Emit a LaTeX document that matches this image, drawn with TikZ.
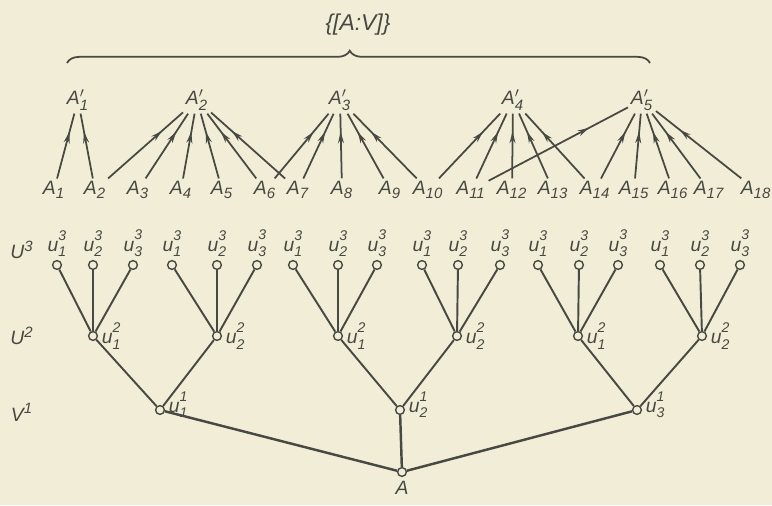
\documentclass[tikz,border=0pt]{standalone}
\usepackage{fontspec}
\setmainfont{Liberation Sans}
\usepackage{amsmath}
\DeclareMathSizes{11}{11}{8.5}{7}
\usetikzlibrary{arrows.meta,decorations.markings,decorations.pathreplacing}
\definecolor{PaperCream}{RGB}{242, 237, 214}
\definecolor{InkGrey}{RGB}{70, 74, 66}
\newcommand{\aname}[1]{$\textit{A}_{\textit{#1}}$}
\newcommand{\apname}[1]{$\textit{A}'_{\textit{#1}}$}
\newcommand{\idx}[1]{{\fontsize{8}{8}\selectfont\textit{#1}}}
\newcommand{\uname}[2]{\textit{u}\makebox[0pt][l]{\raisebox{1.1ex}{\idx{#1}}}\raisebox{-0.55ex}{\idx{#2}}}

\begin{document}
\begin{tikzpicture}[x=0.02cm, y=-0.02cm, color=InkGrey, font=\fontsize{11}{13}\selectfont,
    arr/.style={line width=1pt, postaction={decorate},
      decoration={markings, mark=at position 0.72 with {\arrow{Stealth[length=6.5pt,width=3.4pt]}}}},
    dot/.style={circle, draw, fill=PaperCream, line width=0.8pt, inner sep=0pt, minimum size=5pt},
    twig/.style={line width=1.1pt},
    trunk/.style={line width=1.4pt}]
    \useasboundingbox (0,0) rectangle (772,505);
    \fill[PaperCream] (0,0) rectangle (772,505);

    \coordinate (braceL) at (67,63);
    \coordinate (braceR) at (650,63);
    \draw[line width=1pt, decorate, decoration={brace, amplitude=7pt, aspect=0.485}] (braceL) -- (braceR);
    \node[font=\fontsize{13}{15}\selectfont] (setlabel) at (358,25) {\textit{\{[A:V]\}}};

    \foreach \x [count=\j] in {78,197,340,513,642}
      \node[inner sep=1.5pt] (Ap\j) at (\x,100) {\apname{\j}};
    \foreach \x [count=\i] in {54,95,138,181,222,265,298,342,390,428,471,512,553,595,634,673,709,756}
      \node[inner sep=1.5pt] (A\i) at (\x,190) {\aname{\i}};
    \foreach \j/\members in {1/{1,2}, 2/{2,3,4,5,6,7}, 3/{6,7,8,9,10}, 4/{10,11,12,13,14}, 5/{11,14,15,16,17,18}}
      \foreach \i in \members
        \draw[arr] (A\i) -- (Ap\j);

    \node (lvl3) at (22,250) {$\textit{U}^{\textit{3}}$};
    \node (lvl2) at (22,336) {$\textit{U}^{\textit{2}}$};
    \node (lvl1) at (22,412) {$\textit{V}^{\textit{1}}$};

    \foreach \x [count=\k, evaluate=\k as \s using {int(mod(\k-1,3)+1)}] in {57,93,133,172,217,257,293,338,377,422,458,500,538,579,618,660,700,740}
      \node[dot, label={[label distance=0.5pt, inner sep=1pt]above:{\uname{3}{\s}}}] (u3-\k) at (\x,265) {};
    \foreach \x [count=\k, evaluate=\k as \s using {int(mod(\k-1,2)+1)}] in {93,217,338,457,578,702}
      \node[dot, label={[label distance=1pt, inner sep=1pt]right:{\uname{2}{\s}}}] (u2-\k) at (\x,336) {};
    \foreach \x [count=\k] in {160,400,637}
      \node[dot, label={[label distance=1pt, inner sep=1pt, yshift=3pt]right:{\uname{1}{\k}}}] (u1-\k) at (\x,410) {};
    \node[dot, label={[label distance=1pt, inner sep=1pt]below:{\textit{A}}}] (root) at (402,472) {};

    \foreach \m in {1,...,6}
      \foreach \c in {1,2,3} {
        \pgfmathtruncatemacro\k{3*(\m-1)+\c}
        \draw[twig] (u3-\k) -- (u2-\m);
      }
    \foreach \m/\p in {1/1, 2/1, 3/2, 4/2, 5/3, 6/3}
      \draw[twig] (u2-\m) -- (u1-\p);
    \foreach \p in {1,2,3}
      \draw[trunk] (u1-\p) -- (root);
  \end{tikzpicture}
\end{document}
